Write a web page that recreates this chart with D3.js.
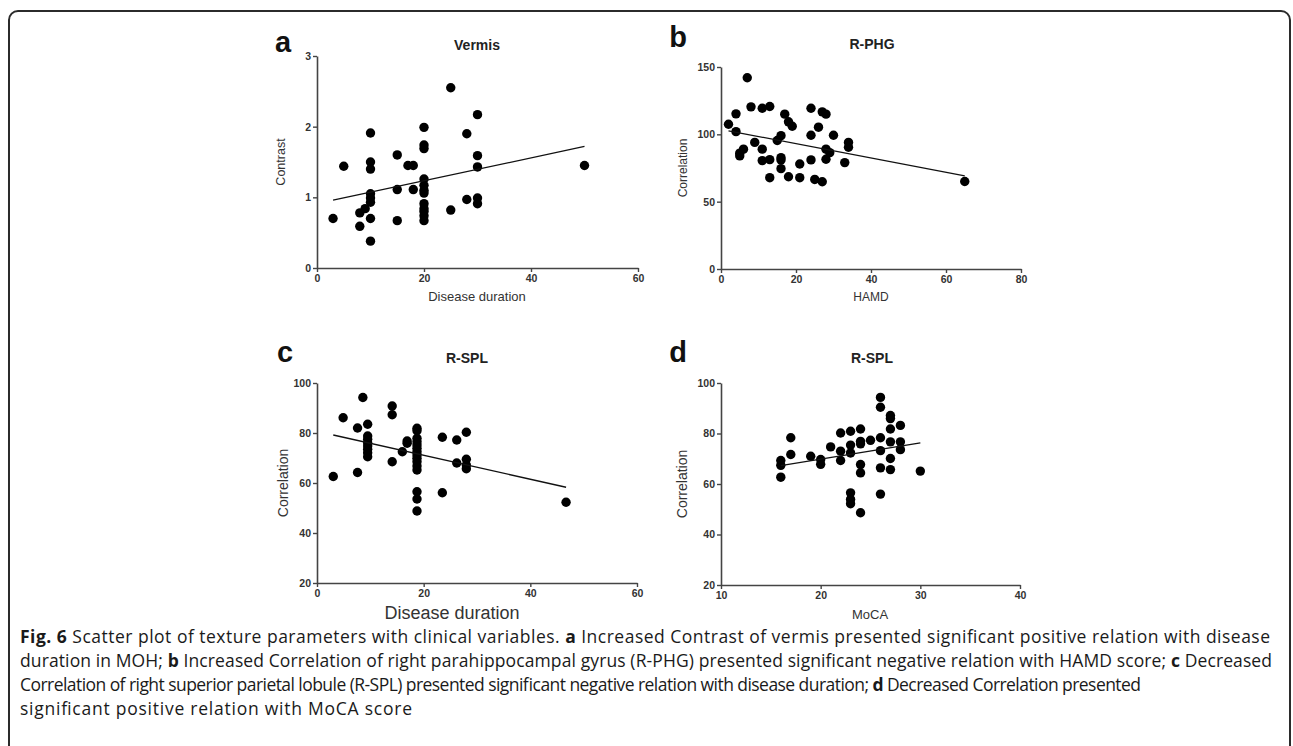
<!DOCTYPE html>
<html>
<head>
<meta charset="utf-8">
<script src="https://cdn.jsdelivr.net/npm/d3@7"></script>
<style>
  body { margin: 0; background: #fff; }
  svg { display: block; }
</style>
</head>
<body>
<div class="holder"></div>
<script>
// values
var vermisPts = [[3,0.70],[5,1.44],[8,0.78],[8,0.59],[9,0.84],[10,1.91],[10,1.50],[10,1.40],[10,1.05],[10,0.99],[10,0.93],[10,0.70],[10,0.38],
  [15,1.60],[15,1.11],[15,0.67],[17,1.45],[18,1.45],[18,1.11],[20,1.99],[20,1.74],[20,1.69],[20,1.26],[20,1.17],[20,1.10],[20,1.06],
  [20,0.91],[20,0.84],[20,0.80],[20,0.74],[20,0.67],[25,2.55],[25,0.82],[28,1.90],[28,0.97],[30,2.17],[30,1.59],[30,1.43],[30,0.99],[30,0.91],[50,1.45]]
var rphgPts = [[2,107.5],[4,115.2],[4,102],[5,84],[5,86],[6,89],[7,142],[8,120.4],[9,94],[11,119.4],[11,89],[11,80.5],[13,120.7],[13,81.2],[13,67.8],
  [15,95.4],[16,99],[16,82.7],[16,81],[16,74.5],[17,115],[18,109.3],[19,106],[18,68.5],[21,78],[21,67.8],[24,119.4],[24,99.3],[24,81],[25,66.5],
  [26,105.3],[27,116.7],[28,115],[27,64.8],[28,89],[28,81.5],[29,86.4],[30,99.3],[33,79],[34,94],[34,90.4],[65,65]]
// panel c: points sit left of the integer positions on its axis
var rsplDurPts = [[3.05,62.6],[4.9,86.1],[7.6,82],[7.6,64.2],[8.6,94.2],[9.5,83.5],[9.5,78.8],[9.5,77.5],[9.5,76.1],[9.5,74.8],[9.5,73.5],[9.5,72.1],[9.5,70.5],
  [14.1,90.8],[14.1,87.3],[14.1,68.5],[16,72.5],[16.9,76.8],[16.9,75.9],[18.75,81.9],[18.75,80.9],[18.75,77.9],[18.75,76.5],[18.75,75.2],[18.75,73.9],[18.75,72.5],[18.75,71.2],
  [18.75,69.9],[18.75,68.5],[18.75,66.8],[18.75,65.2],[18.75,56.5],[18.75,53.6],[18.75,48.8],[23.5,78.3],[23.5,56.1],[26.2,77.2],[26.2,68],[28,80.3],[28,69.5],[28,67.2],[28,65.7],[46.7,52.3]]
var rsplMocaPts = [[16,62.7],[16,67.4],[16,69.3],[17,78.3],[17,71.7],[19,71.0],[20,69.7],[20,67.8],[21,74.7],[22,80.2],[22,73.0],[22,69.3],
  [23,80.9],[23,75.4],[23,72.3],[23,56.5],[23,53.9],[23,52.2],[24,81.8],[24,76.9],[24,75.9],[24,67.7],[24,64.4],[24,48.6],[25,77.3],
  [26,94.3],[26,90.4],[26,78.3],[26,73.2],[26,66.4],[26,56.0],[27,87.1],[27,85.9],[27,81.8],[27,76.7],[27,70.1],[27,65.7],[28,83.2],[28,76.7],[28,73.6],[30,65.1]]

// fitted lines (end points)
var fitA = [[3,0.96],[50,1.72]]
var fitB = [[2,102.6],[65,69.2]]
var fitC = [[3.05,79.2],[46.7,58.3]]
var fitD = [[16,67.3],[30,76.3]]

var ticksAx = [0,20,40,60], ticksAy = [0,1,2,3]
var ticksBx = [0,20,40,60,80], ticksBy = [0,50,100,150]
var ticksCx = [0,20,40,60], ticksCy = [20,40,60,80,100]
var ticksDx = [10,20,30,40], ticksDy = [20,40,60,80,100]

var panelLetters = ['a','b','c','d']
var panelTitles = ['Vermis','R-PHG','R-SPL','R-SPL']
var xLabels = ['Disease duration','HAMD','Disease duration','MoCA']
var yLabels = ['Contrast','Correlation','Correlation','Correlation']

var W = 1293, H = 746

var svg = d3.select('.holder').append('svg')
  .attr('width', W).attr('height', H)

// outer frame
svg.append('rect')
  .attr('x', 9).attr('y', 11)
  .attr('width', 1281).attr('height', 800)
  .attr('rx', 9)
  .attr('fill', 'none').attr('stroke', '#2b2b2b').attr('stroke-width', 2)

var panels = [
  { pts: vermisPts, fit: fitA, xd: [0,60], xr: [317,638], yd: [0,3], yr: [268,56], xt: ticksAx, yt: ticksAy,
    letter: [283,52], title: [477,50], xl: [477,301, 13], yl: [281, 12.5] },
  { pts: rphgPts, fit: fitB, xd: [0,80], xr: [721,1021], yd: [0,150], yr: [269,67], xt: ticksBx, yt: ticksBy,
    letter: [678,47], title: [872,49], xl: [871,301, 12], yl: [683, 12] },
  { pts: rsplDurPts, fit: fitC, xd: [0,60], xr: [317,637], yd: [20,100], yr: [583,383], xt: ticksCx, yt: ticksCy,
    letter: [285,362], title: [467,363], xl: [452,619, 18], yl: [284, 14] },
  { pts: rsplMocaPts, fit: fitD, xd: [10,40], xr: [721,1020], yd: [20,100], yr: [585,383], xt: ticksDx, yt: ticksDy,
    letter: [678,362], title: [872,363], xl: [870,619, 13], yl: [683, 14] }
]

var chartFont = 'Liberation Sans, Arial, sans-serif'

panels.forEach(function(p, i) {
  var x = d3.scaleLinear().domain(p.xd).range(p.xr)
  var y = d3.scaleLinear().domain(p.yd).range(p.yr)
  var g = svg.append('g')

  var xAxis = g.append('g')
    .attr('transform', 'translate(0,' + p.yr[0] + ')')
    .call(d3.axisBottom(x).tickValues(p.xt).tickFormat(d3.format('d')).tickSize(4).tickSizeOuter(0).tickPadding(3))
  var yAxis = g.append('g')
    .attr('transform', 'translate(' + p.xr[0] + ',0)')
    .call(d3.axisLeft(y).tickValues(p.yt).tickFormat(d3.format('d')).tickSize(4).tickSizeOuter(0).tickPadding(2))

  ;[xAxis, yAxis].forEach(function(a) {
    a.select('.domain').attr('stroke', '#444').attr('stroke-width', 1.6)
    a.selectAll('.tick line').attr('stroke', '#444').attr('stroke-width', 1.4)
    a.selectAll('.tick text')
      .attr('fill', '#333')
      .style('font-family', chartFont)
      .style('font-size', '10.5px')
      .style('font-weight', 'bold')
  })

  // dots
  g.selectAll('.dot')
    .data(p.pts)
    .enter()
    .append('circle')
    .attr('class', 'dot')
    .attr('cx', function(d) { return x(d[0]) })
    .attr('cy', function(d) { return y(d[1]) })
    .attr('r', 4.7)
    .attr('fill', '#000')

  // fit line
  g.append('path')
    .datum(p.fit)
    .attr('d', d3.line().x(function(d) { return x(d[0]) }).y(function(d) { return y(d[1]) }))
    .attr('stroke', '#111').attr('stroke-width', 1.3).attr('fill', 'none')

  g.append('text')
    .attr('x', p.letter[0]).attr('y', p.letter[1])
    .attr('text-anchor', 'middle')
    .style('font-family', chartFont).style('font-weight', 'bold').style('font-size', '29px')
    .attr('fill', '#111')
    .text(panelLetters[i])

  g.append('text')
    .attr('x', p.title[0]).attr('y', p.title[1])
    .attr('text-anchor', 'middle')
    .style('font-family', chartFont).style('font-weight', 'bold').style('font-size', '14px')
    .attr('fill', '#222')
    .text(panelTitles[i])

  g.append('text')
    .attr('x', p.xl[0]).attr('y', p.xl[1])
    .attr('text-anchor', 'middle')
    .style('font-family', chartFont).style('font-size', p.xl[2] + 'px')
    .attr('fill', '#333')
    .text(xLabels[i])

  var ymid = (p.yr[0] + p.yr[1]) / 2
  g.append('text')
    .attr('transform', 'translate(' + (p.yl[0] + 4) + ',' + ymid + ') rotate(-90)')
    .attr('text-anchor', 'middle')
    .style('font-family', chartFont).style('font-size', p.yl[1] + 'px')
    .attr('fill', '#333')
    .text(yLabels[i])
})

// caption
var caption = [
  [['Fig. 6', 1], [' Scatter plot of texture parameters with clinical variables. ', 0], ['a', 1], [' Increased Contrast of vermis presented significant positive relation with disease', 0]],
  [['duration in MOH; ', 0], ['b', 1], [' Increased Correlation of right parahippocampal gyrus (R-PHG) presented significant negative relation with HAMD score; ', 0], ['c', 1], [' Decreased', 0]],
  [['Correlation of right superior parietal lobule (R-SPL) presented significant negative relation with disease duration; ', 0], ['d', 1], [' Decreased Correlation presented', 0]],
  [['significant positive relation with MoCA score', 0]]
]
var captionWidths = [1250, 1252, 1121, 392]

caption.forEach(function(line, i) {
  var t = svg.append('text')
    .attr('x', 20).attr('y', 643 + i * 24)
    .attr('textLength', captionWidths[i])
    .attr('lengthAdjust', 'spacing')
    .style('font-family', 'Open Sans, Noto Sans, sans-serif')
    .style('font-size', '17.5px')
    .attr('fill', '#1a1a1a')
    .attr('xml:space', 'preserve')
  line.forEach(function(seg) {
    t.append('tspan')
      .style('font-weight', seg[1] ? 'bold' : 'normal')
      .text(seg[0])
  })
})
</script>
</body>
</html>
